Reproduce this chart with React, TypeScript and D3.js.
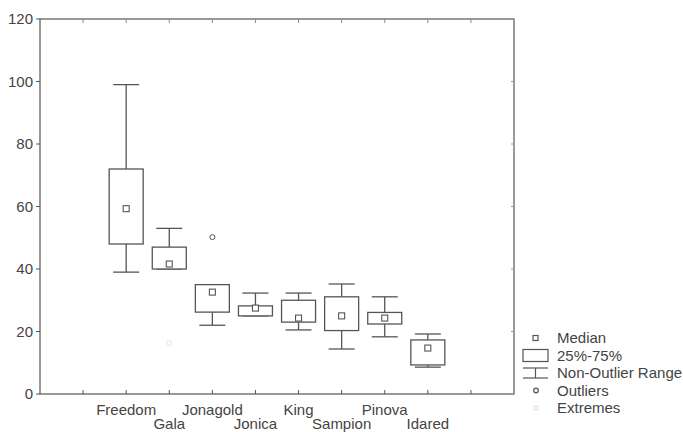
import React from 'react';
import * as d3 from 'd3';

const cultivars = ['Freedom', 'Gala', 'Jonagold', 'Jonica', 'King', 'Sampion', 'Pinova', 'Idared'];
const whiskerLow = [39, 40, 22, 25, 20.5, 14.4, 18.3, 8.6];
const q1 = [48, 40, 26.2, 25, 23, 20.3, 22.4, 9.3];
const medians = [59.3, 41.6, 32.6, 27.5, 24.3, 25, 24.3, 14.7];
const q3 = [72, 47, 35, 28.2, 30, 31.1, 26.1, 17.3];
const whiskerHigh = [99, 53, 35, 32.3, 32.3, 35.2, 31.1, 19.2];
const outliers = [{ name: 'Jonagold', value: 50.2 }];
const extremes = [{ name: 'Gala', value: 16.3 }];
const yTicks = [0, 20, 40, 60, 80, 100, 120];
const legendLabels = ['Median', '25%-75%', 'Non-Outlier Range', 'Outliers', 'Extremes'];

const W = 683;
const H = 432;
const margin = { top: 19, right: 169, bottom: 38, left: 40 };
const ink = '#555';
const textCol = '#444';
const font = '"Liberation Sans", Arial, sans-serif';

export default function App() {
  const innerW = W - margin.left - margin.right;
  const innerH = H - margin.top - margin.bottom;
  const slots = ['_a', ...cultivars, '_b'];
  const x = d3.scalePoint<string>().domain(slots).range([0, innerW]).padding(1);
  const y = d3.scaleLinear().domain([0, 120]).range([innerH, 0]);
  const boxW = 34;
  const capW = 26;
  const med = 6;

  const rows = cultivars.map((name, i) => ({
    name,
    lo: whiskerLow[i],
    q1: q1[i],
    med: medians[i],
    q3: q3[i],
    hi: whiskerHigh[i],
  }));

  const lx = 523;
  const ly = 338;
  const step = 17.5;

  return (
    <svg width={W} height={H} style={{ position: 'absolute', left: 0, top: 0, background: '#fff' }}
      fontFamily={font}>
      <g transform={`translate(${margin.left},${margin.top})`}>
        {/* frame */}
        <rect x={0} y={0} width={innerW} height={innerH} fill="none" stroke={ink} strokeWidth={1.2} />
        {/* y ticks */}
        {yTicks.map((t) => (
          <g key={t} transform={`translate(0,${y(t)})`}>
            <line x1={-4} x2={0} stroke={ink} />
            <text x={-7} dy="0.35em" textAnchor="end" fontSize={15} fill={textCol}>{t}</text>
            <line x1={innerW} x2={innerW - 3} stroke="#999" />
          </g>
        ))}
        {/* x ticks, top and bottom */}
        {slots.map((s) => (
          <g key={s} transform={`translate(${x(s)},0)`}>
            <line y1={innerH} y2={innerH - 4} stroke={ink} />
            <line y1={0} y2={4} stroke="#888" />
          </g>
        ))}
        {/* category labels, two rows */}
        {cultivars.map((c, i) => (
          <text key={c} x={x(c)} y={innerH + (i % 2 === 0 ? 21 : 35)} textAnchor="middle"
            fontSize={15} fill={textCol}>{c}</text>
        ))}
        {/* boxes */}
        {rows.map((d) => {
          const cx = x(d.name)!;
          return (
            <g key={d.name} stroke={ink} strokeWidth={1.3} fill="none">
              <line x1={cx} x2={cx} y1={y(d.hi)} y2={y(d.q3)} />
              <line x1={cx} x2={cx} y1={y(d.q1)} y2={y(d.lo)} />
              <line x1={cx - capW / 2} x2={cx + capW / 2} y1={y(d.hi)} y2={y(d.hi)} />
              <line x1={cx - capW / 2} x2={cx + capW / 2} y1={y(d.lo)} y2={y(d.lo)} />
              <rect x={cx - boxW / 2} y={y(d.q3)} width={boxW} height={y(d.q1) - y(d.q3)} fill="#fff" />
              <rect x={cx - med / 2} y={y(d.med) - med / 2} width={med} height={med} fill="#fff" strokeWidth={1.1} />
            </g>
          );
        })}
        {outliers.map((o) => (
          <circle key={o.name} cx={x(o.name)} cy={y(o.value)} r={2.5} fill="none" stroke={ink} />
        ))}
        {extremes.map((o) => (
          <circle key={o.name} cx={x(o.name)} cy={y(o.value)} r={2.5} fill="none" stroke="#e4e4e4" />
        ))}
      </g>
      {/* legend */}
      <g stroke={ink} strokeWidth={1.2} fill="none">
        <rect x={lx + 10} y={ly - 2.5} width={5} height={5} fill="#fff" />
        <rect x={lx} y={ly + step - 6} width={25} height={12} />
        <line x1={lx} x2={lx + 25} y1={ly + step * 2 - 5} y2={ly + step * 2 - 5} />
        <line x1={lx + 12.5} x2={lx + 12.5} y1={ly + step * 2 - 5} y2={ly + step * 2 + 5} />
        <line x1={lx} x2={lx + 25} y1={ly + step * 2 + 5} y2={ly + step * 2 + 5} />
        <circle cx={lx + 13} cy={ly + step * 3} r={2.3} />
        <circle cx={lx + 13} cy={ly + step * 4} r={2.3} stroke="#e4e4e4" />
      </g>
      {legendLabels.map((l, i) => (
        <text key={l} x={557} y={ly + i * step} dy="0.35em" fontSize={15} fill={textCol}>{l}</text>
      ))}
    </svg>
  );
}
